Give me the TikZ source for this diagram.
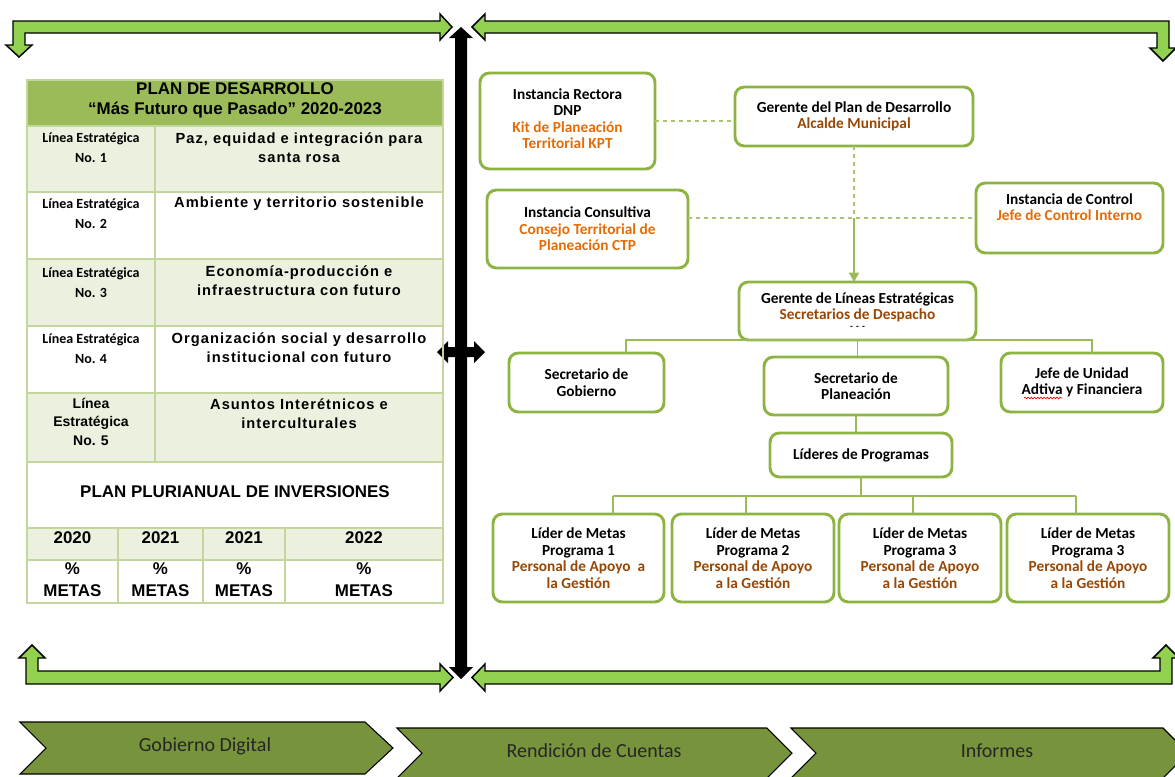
\documentclass[tikz,border=0pt]{standalone}
\usepackage{fontspec}
\setmainfont{Carlito}
\newfontfamily\tabfont{Liberation Sans}
\newfontfamily\spacedfont[LetterSpace=7]{Liberation Sans}
\usepackage{xcolor}
\usetikzlibrary{positioning, arrows.meta, calc, decorations.pathmorphing}

\definecolor{leafgreen}{HTML}{92D050}
\definecolor{stagegreen}{HTML}{77933C}
\definecolor{framegreen}{HTML}{8DB443}
\definecolor{headgreen}{HTML}{9BBB59}
\definecolor{rowgreen}{HTML}{EBF1DE}
\definecolor{gridgreen}{HTML}{C3D69B}
\definecolor{kptorange}{HTML}{E36C09}
\definecolor{rustbrown}{HTML}{984806}

\begin{document}
\begin{tikzpicture}[
    x=0.75pt, y=-0.75pt,
    orgbox/.style={draw=framegreen, line width=2.2pt, rounded corners=7pt, fill=white, outer sep=0pt, inner sep=1pt, align=center, font=\bfseries\fontsize{11.5}{12.4}\selectfont},
    linkline/.style={draw=headgreen, line width=1pt},
    linkarrow/.style={linkline, -{Triangle[length=7pt, width=7.5pt]}},
    dashlink/.style={draw=headgreen!85, line width=1pt, dash pattern=on 3pt off 3pt},
    blockarrow/.style={draw=black, line width=1.1pt, fill=leafgreen, line join=miter},
    pointer/.style={fill=black},
    stagebox/.style={draw=black, line width=0.8pt, fill=stagegreen, line join=miter},
    stagetext/.style={font=\fontsize{15}{18}\selectfont, text=black!85},
    headtext/.style={font=\tabfont\bfseries\fontsize{12.7}{15}\selectfont, align=center, inner sep=0pt},
    tagtext/.style={font=\bfseries\fontsize{10.5}{15}\selectfont, align=center, inner sep=0pt},
    goaltext/.style={font=\spacedfont\bfseries\fontsize{11}{14.3}\selectfont, align=center, inner sep=0pt},
    gridline/.style={draw=gridgreen, line width=0.8pt},
]
\useasboundingbox (0,0) rectangle (1175,776);

% Frame arrows
\draw[blockarrow] (13,21) -- (440,21) -- (440,14) -- (452,27) -- (440,40) -- (440,33) -- (25,33) -- (25,45) -- (32,45) -- (19,57) -- (6,45) -- (13,45) -- cycle;
\draw[blockarrow] (1169,21) -- (485,21) -- (485,14) -- (472,27) -- (485,40) -- (485,33) -- (1157,33) -- (1157,48) -- (1150,48) -- (1163,61) -- (1176,48) -- (1169,48) -- cycle;
\draw[blockarrow] (26,684) -- (440,684) -- (440,691) -- (453,677.5) -- (440,664) -- (440,671) -- (38,671) -- (38,658) -- (45,658) -- (32,645) -- (19,658) -- (26,658) -- cycle;
\draw[blockarrow] (1172,684) -- (485,684) -- (485,691) -- (472,677.5) -- (485,664) -- (485,671) -- (1160,671) -- (1160,658) -- (1153,658) -- (1166,645) -- (1179,658) -- (1172,658) -- cycle;

% Central divider
\fill[pointer] (461,27) -- (473,38) -- (467,38) -- (467,667) -- (473,667) -- (461,679) -- (449,667) -- (455,667) -- (455,38) -- (449,38) -- cycle;
\fill[pointer] (437,352) -- (448,341) -- (448,347) -- (474,347) -- (474,341) -- (485,352) -- (474,363) -- (474,357) -- (448,357) -- (448,363) -- cycle;

% Plan table
\fill[headgreen] (27,80) rectangle (443,126);
\foreach \rowtop/\rowbot in {126/192, 259/326, 393/462, 528/560}
    \fill[rowgreen] (27,\rowtop) rectangle (443,\rowbot);
\draw[gridline] (27,80) rectangle (443,603);
\foreach \yy in {126,192,259,326,393,462,528,560}
    \draw[gridline] (27,\yy) -- (443,\yy);
\draw[gridline] (155,126) -- (155,462);
\foreach \xx in {118,203,285}
    \draw[gridline] (\xx,528) -- (\xx,603);

\node[headtext] (plan) at (235,100) {PLAN DE DESARROLLO\\“Más Futuro que Pasado” 2020-2023};

\foreach \n/\yy in {1/148, 2/214, 3/282.5, 4/349}
    \node[tagtext] (tag\n) at (91,\yy) {Línea Estratégica\\No. \n};
\node[font=\tabfont\bfseries\fontsize{10.5}{13.9}\selectfont, align=center, inner sep=0pt] (tag5) at (91,421.5) {Línea\\Estratégica\\No. 5};

\node[goaltext] (goal1) at (299,147.5) {Paz, equidad e integración para\\santa rosa};
\node[goaltext] (goal2) at (299,204) {Ambiente y territorio sostenible};
\node[goaltext] (goal3) at (299,280.5) {Economía-producción e\\infraestructura con futuro};
\node[goaltext] (goal4) at (299,347.5) {Organización social y desarrollo\\institucional con futuro};
\node[goaltext] (goal5) at (299,414) {Asuntos Interétnicos e\\interculturales};

\node[headtext] (ppi) at (235,492) {PLAN PLURIANUAL DE INVERSIONES};
\foreach \yr/\xx [count=\i] in {2020/72.5, 2021/160.5, 2021/244, 2022/364} {
    \node[headtext] (year\i) at (\xx,538) {\yr};
    \node[headtext, font=\tabfont\bfseries\fontsize{12.7}{16.5}\selectfont] (metas\i) at (\xx,580) {\%\\METAS};
}

% Upper instances
\node[orgbox, minimum width=131.25pt, minimum height=72pt] (rectora) at (567.5,121) {Instancia Rectora\\DNP\\\textcolor{kptorange}{Kit de Planeación}\\\textcolor{kptorange}{Territorial KPT}\\[-9pt]\mbox{}};
\node[orgbox, minimum width=178.5pt, minimum height=44.25pt] (gerente) at (854,116.5) {Gerente del Plan de Desarrollo\\\textcolor{rustbrown}{Alcalde Municipal}};
\node[orgbox, minimum width=150.75pt, minimum height=58.5pt] (consultiva) at (587.5,229) {Instancia Consultiva\\\textcolor{kptorange}{Consejo Territorial de}\\\textcolor{kptorange}{Planeación CTP}};
\node[orgbox, minimum width=140.25pt, minimum height=52.5pt] (control) at (1069.5,218) {Instancia de Control\\\textcolor{kptorange}{Jefe de Control Interno}\\\strut};

% Strategic lines
\node[orgbox, minimum width=177.75pt, minimum height=43.5pt] (lineas) at (857.5,311) {Gerente de Líneas Estratégicas\\\textcolor{rustbrown}{Secretarios de Despacho}\\[-5pt]{\fontsize{7}{7}\selectfont -\,\,-\,\,-}};
\node[orgbox, minimum width=116.25pt, minimum height=44.25pt] (gobierno) at (586.5,382.5) {Secretario de\\Gobierno};
\node[orgbox, minimum width=138pt, minimum height=43.5pt] (planeacion) at (856,386) {Secretario de\\Planeación};
\node[orgbox, minimum width=121.5pt, minimum height=44.25pt] (jefe) at (1082,382.5) {Jefe de Unidad\\Adtiva y Financiera};
\draw[red, line width=0.5pt, decorate, decoration={snake, amplitude=0.6pt, segment length=2.4pt}] ($(jefe.center)+(-58,15.5)$) -- ($(jefe.center)+(-20,15.5)$);

% Programme leaders
\node[orgbox, minimum width=136.5pt, minimum height=33pt] (lideres) at (861,455) {Líderes de Programas};
\node[orgbox, minimum width=128.25pt, minimum height=66pt] (l1) at (578.5,558) {Líder de Metas\\Programa 1\\\textcolor{rustbrown}{Personal de Apoyo~ a}\\\textcolor{rustbrown}{la Gestión}};
\node[orgbox, minimum width=121.5pt, minimum height=66pt, right=6pt of l1] (l2) {Líder de Metas\\Programa 2\\\textcolor{rustbrown}{Personal de Apoyo}\\\textcolor{rustbrown}{a la Gestión}};
\node[orgbox, minimum width=121.5pt, minimum height=66pt, right=3.75pt of l2] (l3) {Líder de Metas\\Programa 3\\\textcolor{rustbrown}{Personal de Apoyo}\\\textcolor{rustbrown}{a la Gestión}};
\node[orgbox, minimum width=121.5pt, minimum height=66pt, right=4.5pt of l3] (l4) {Líder de Metas\\Programa 3\\\textcolor{rustbrown}{Personal de Apoyo}\\\textcolor{rustbrown}{a la Gestión}};

% Dashed links
\draw[dashlink] (rectora.east) -- (rectora.east -| gerente.west);
\draw[dashlink] (control.west -| consultiva.east) -- (control.west);
\coordinate (meet) at (gerente.south |- control.west);
\draw[dashlink] (gerente.south) -- (meet);
\draw[linkarrow] (meet) -- (meet |- lineas.north);

% Secretaries bus
\coordinate (busleft) at (626,340);
\coordinate (busright) at (1092,340);
\draw[linkline] (busleft |- gobierno.north) -- (busleft) -- (busright) -- (busright |- jefe.north);
\draw[linkline] (lineas.south) -- (lineas.south |- planeacion.north);
\draw[linkline] (planeacion.south) -- (planeacion.south |- lideres.north);

% Leaders bus
\coordinate (drop1) at (613,496);
\coordinate (drop2) at (746,496);
\coordinate (drop3) at (913,496);
\coordinate (drop4) at (1076,496);
\draw[linkline] (lideres.south) -- (lideres.south |- drop1);
\draw[linkline] (drop1) -- (drop4);
\foreach \i in {1,...,4}
    \draw[linkline] (drop\i) -- (drop\i |- l\i.north);

% Stages
\draw[stagebox] (20,722) -- (365,722) -- (393,748) -- (365,774) -- (20,774) -- (46,748) -- cycle;
\draw[stagebox] (397,728) -- (767,728) -- (792,753) -- (767,778) -- (397,778) -- (422,753) -- cycle;
\draw[stagebox] (791,728) -- (1163,728) -- (1188,753) -- (1163,778) -- (791,778) -- (816,753) -- cycle;
\node[stagetext] (digital) at (205,746) {Gobierno Digital};
\node[stagetext] (cuentas) at (594,751) {Rendición de Cuentas};
\node[stagetext] (informes) at (997,751) {Informes};

\end{tikzpicture}
\end{document}
